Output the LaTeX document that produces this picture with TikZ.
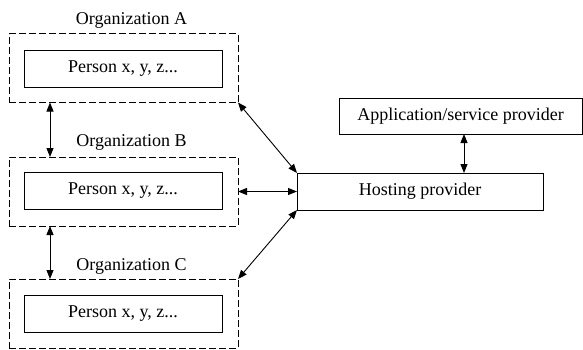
\documentclass[tikz,border=0pt]{standalone}
\usepackage{fontspec}
\setmainfont{Liberation Serif}
\usetikzlibrary{arrows.meta}
\begin{document}
\begin{tikzpicture}[x=1pt,y=-1pt,
  every node/.style={inner sep=0pt,outer sep=0pt,font=\fontsize{18}{20}\selectfont},
  orgbox/.style={draw,line width=0.8pt,dash pattern=on 7pt off 3pt,minimum width=229pt,minimum height=69pt},
  personbox/.style={draw,line width=0.8pt,minimum width=198pt,minimum height=37pt},
  provbox/.style={draw,line width=0.8pt,minimum height=37pt},
  arr/.style={line width=0.9pt,{Triangle[length=9pt,width=7pt]}-{Triangle[length=9pt,width=7pt]}}]
\useasboundingbox (0,0) rectangle (583,349);
\node[orgbox] (orgA) at (123.5,68) {};
\node[personbox] (persA) at (123,68.5) {Person x, y, z...};
\node (labA) at (131.5,20) {Organization A};
\node[orgbox] (orgB) at (123.5,191.5) {};
\node[personbox] (persB) at (123,191) {Person x, y, z...};
\node (labB) at (131.5,142) {Organization B};
\node[orgbox] (orgC) at (123.5,313.5) {};
\node[personbox] (persC) at (123,314) {Person x, y, z...};
\node (labC) at (131.5,266) {Organization C};
\node[provbox,minimum width=246pt] (host) at (420,191.5) {Hosting provider};
\node[provbox,minimum width=243pt,minimum height=36pt] (app) at (460.5,116) {Application/service provider};
\draw[arr] ([xshift=41pt]orgA.south west) -- ([xshift=41pt]orgB.north west);
\draw[arr] ([xshift=41pt]orgB.south west) -- ([xshift=41pt]orgC.north west);
\draw[arr] (orgA.south east) -- (host.north west);
\draw[arr] (orgB.east) -- (host.west);
\draw[arr] (orgC.north east) -- (host.south west);
\draw[arr] ([xshift=3.5pt]app.south) -- ([xshift=44pt]host.north);
\end{tikzpicture}
\end{document}
